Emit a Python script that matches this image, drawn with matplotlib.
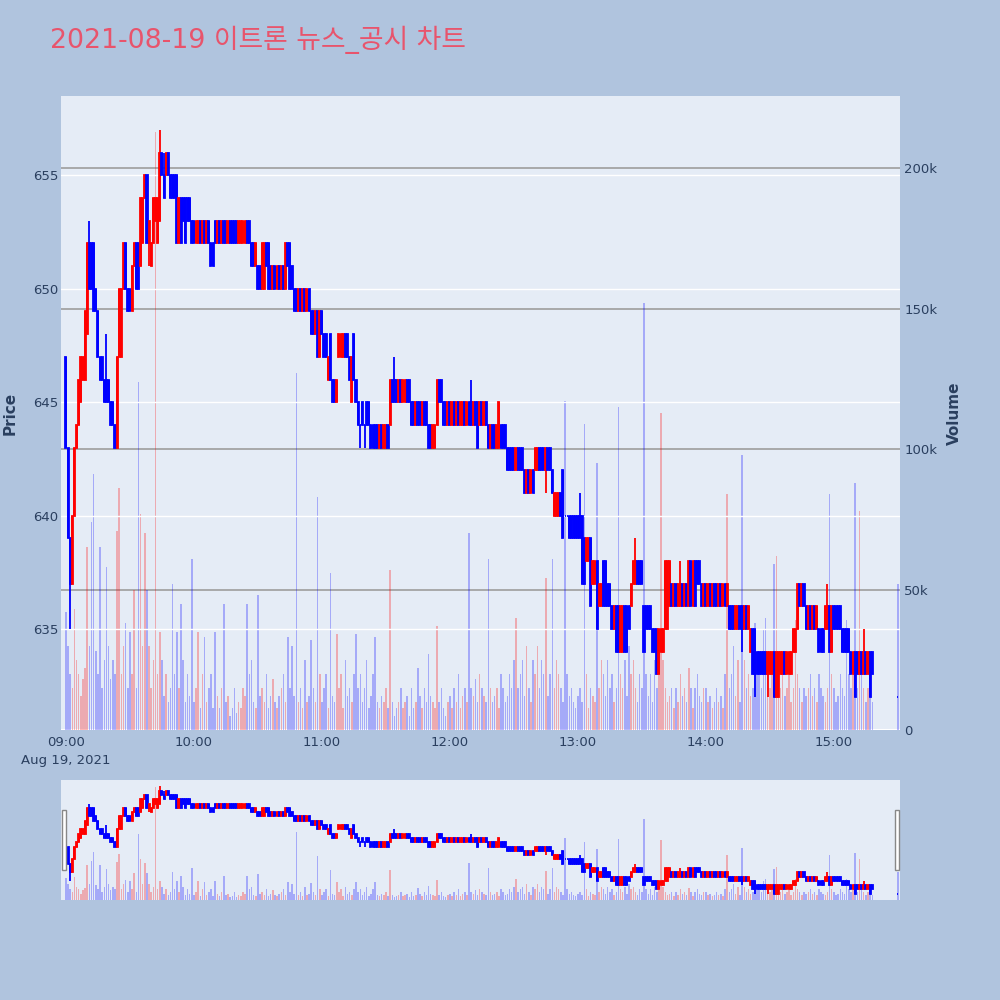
import numpy as np
import pandas as pd
import matplotlib
matplotlib.use('Agg')
import matplotlib.pyplot as plt
from matplotlib.patches import Rectangle

plt.rcParams['font.family'] = ['DejaVu Sans', 'Noto Sans CJK KR']

# one-minute candles, 09:00 .. 15:18, plus the closing auction at 15:30
opens = [
    647, 643, 639, 637, 640, 643, 644, 645, 646, 646, 648, 652, 652, 652, 650, 649, 647, 647, 646, 646,
    646, 645, 645, 644, 643, 647, 647, 650, 652, 650, 650, 649, 651, 652, 652, 651, 652, 654, 655, 652,
    651, 652, 653, 652, 653, 656, 655, 655, 656, 655, 655, 655, 655, 652, 654, 654, 654, 654, 654, 653,
    653, 652, 652, 653, 652, 653, 652, 653, 652, 652, 653, 652, 653, 652, 653, 653, 652, 653, 653, 653,
    653, 652, 652, 652, 652, 653, 653, 652, 652, 651, 651, 651, 650, 650, 652, 652, 651, 650, 651, 650,
    651, 650, 651, 650, 652, 652, 651, 650, 650, 649, 650, 649, 650, 649, 650, 649, 649, 648, 649, 647,
    649, 648, 648, 646, 648, 646, 646, 645, 647, 647, 647, 648, 648, 647, 645, 648, 646, 645, 644, 645,
    644, 645, 645, 644, 644, 644, 644, 643, 644, 643, 643, 644, 644, 646, 646, 646, 645, 646, 645, 645,
    646, 646, 645, 645, 644, 645, 645, 644, 645, 645, 644, 644, 643, 643, 644, 646, 646, 645, 645, 644,
    645, 644, 645, 644, 645, 644, 644, 645, 644, 645, 645, 644, 645, 645, 644, 645, 644, 645, 644, 643,
    644, 644, 643, 643, 644, 644, 644, 643, 643, 643, 643, 642, 643, 643, 643, 642, 641, 642, 641, 642,
    642, 642, 643, 643, 643, 642, 643, 643, 642, 640, 640, 640, 641, 642, 640, 640, 640, 640, 640, 640,
    640, 640, 640, 639, 638, 638, 639, 637, 637, 638, 636, 636, 638, 638, 637, 637, 636, 635, 636, 636,
    634, 634, 636, 636, 636, 636, 637, 637, 638, 638, 638, 636, 636, 636, 636, 635, 635, 635, 633, 634,
    634, 635, 635, 636, 637, 636, 637, 636, 636, 637, 636, 637, 636, 638, 636, 638, 638, 638, 637, 636,
    637, 636, 637, 636, 637, 637, 636, 637, 636, 637, 636, 636, 636, 636, 635, 635, 636, 636, 635, 636,
    635, 634, 635, 635, 634, 634, 634, 634, 634, 633, 633, 633, 634, 632, 632, 633, 633, 634, 633, 633,
    633, 634, 634, 635, 637, 636, 637, 636, 635, 636, 635, 636, 635, 635, 635, 635, 635, 635, 636, 634,
    636, 636, 636, 636, 635, 635, 635, 635, 634, 633, 634, 634, 633, 634, 633, 634, 633, 634, 634,
    632,
]
closes = [
    643, 639, 637, 640, 643, 644, 646, 647, 647, 649, 652, 650, 650, 649, 649, 647, 646, 646, 645, 645,
    645, 644, 644, 643, 647, 650, 650, 652, 650, 649, 649, 651, 652, 650, 650, 654, 654, 655, 652, 653,
    652, 654, 654, 654, 656, 655, 654, 656, 655, 654, 654, 654, 652, 654, 652, 653, 652, 653, 653, 652,
    652, 653, 653, 652, 653, 652, 653, 652, 651, 651, 652, 653, 652, 653, 652, 652, 653, 652, 652, 652,
    652, 653, 653, 653, 653, 652, 652, 651, 651, 652, 650, 650, 652, 652, 651, 650, 650, 651, 650, 651,
    650, 651, 650, 652, 651, 650, 650, 649, 649, 650, 649, 650, 649, 650, 649, 648, 648, 649, 647, 649,
    648, 647, 647, 647, 646, 645, 645, 646, 648, 648, 648, 647, 647, 646, 647, 646, 645, 644, 644, 644,
    644, 644, 644, 643, 643, 643, 643, 644, 643, 644, 644, 643, 646, 645, 645, 645, 646, 645, 646, 646,
    645, 645, 644, 644, 645, 644, 644, 645, 644, 644, 643, 643, 644, 644, 646, 645, 645, 644, 644, 645,
    644, 645, 644, 645, 644, 645, 645, 644, 645, 644, 644, 645, 644, 643, 645, 644, 645, 644, 643, 644,
    643, 643, 644, 645, 643, 643, 643, 642, 642, 642, 642, 643, 642, 642, 642, 641, 642, 641, 642, 641,
    643, 643, 642, 642, 642, 643, 642, 642, 641, 641, 641, 641, 640, 639, 640, 640, 639, 639, 639, 639,
    639, 639, 637, 637, 639, 639, 636, 638, 638, 635, 637, 637, 636, 636, 636, 636, 635, 636, 634, 634,
    636, 636, 634, 634, 635, 637, 638, 638, 637, 637, 637, 634, 635, 635, 635, 634, 634, 633, 635, 635,
    635, 638, 638, 638, 636, 637, 636, 637, 637, 636, 637, 636, 638, 636, 638, 636, 637, 637, 636, 637,
    636, 637, 636, 637, 636, 636, 637, 636, 637, 636, 637, 635, 635, 635, 636, 636, 635, 635, 636, 635,
    636, 635, 633, 633, 633, 633, 633, 633, 633, 634, 634, 634, 632, 634, 634, 634, 634, 633, 634, 634,
    634, 635, 635, 637, 636, 637, 636, 635, 636, 635, 636, 635, 636, 634, 634, 634, 636, 636, 634, 636,
    635, 635, 635, 635, 634, 634, 634, 634, 633, 634, 632, 633, 634, 633, 634, 633, 634, 632, 633,
    632,
]
wick_high = {11: 653, 19: 648, 44: 657, 46: 656, 154: 647, 190: 646, 241: 641,
             267: 639, 288: 638, 357: 637, 374: 635}
wick_low = {2: 635, 39: 651, 138: 643, 140: 643, 225: 641, 317: 634, 323: 632, 329: 632}

# volume in thousands of shares
volume_k = [
    42, 30, 20, 15, 43, 25, 20, 12, 18, 22, 65, 30, 74, 91, 28, 20, 65, 15, 25, 58,
    30, 18, 25, 20, 71, 86, 20, 30, 38, 15, 35, 20, 50, 15, 124, 77, 30, 70, 50, 30,
    15, 25, 213, 20, 35, 25, 12, 20, 10, 15, 52, 20, 35, 15, 45, 25, 10, 20, 12, 61,
    10, 15, 35, 8, 20, 33, 10, 15, 20, 8, 35, 12, 8, 15, 45, 10, 12, 5, 8, 15,
    6, 10, 8, 15, 12, 45, 20, 25, 10, 8, 48, 12, 15, 10, 20, 8, 12, 18, 10, 8,
    12, 15, 20, 10, 33, 15, 30, 12, 127, 10, 15, 8, 25, 10, 12, 32, 15, 10, 83, 20,
    10, 15, 20, 8, 56, 12, 10, 34, 15, 20, 8, 25, 12, 15, 10, 20, 34, 15, 20, 10,
    15, 25, 8, 12, 20, 33, 10, 8, 12, 10, 15, 8, 57, 10, 5, 8, 10, 15, 8, 10,
    12, 5, 15, 8, 10, 22, 12, 8, 15, 10, 27, 12, 10, 8, 37, 10, 15, 8, 5, 10,
    12, 8, 15, 10, 20, 8, 12, 15, 10, 70, 15, 12, 18, 10, 20, 15, 12, 10, 61, 15,
    10, 12, 15, 8, 20, 15, 10, 12, 20, 15, 25, 40, 15, 20, 25, 12, 30, 15, 10, 25,
    20, 30, 15, 25, 20, 54, 12, 20, 61, 15, 25, 20, 15, 10, 117, 20, 12, 15, 10, 8,
    12, 15, 10, 109, 20, 8, 15, 12, 10, 95, 15, 25, 20, 12, 25, 15, 20, 10, 15, 115,
    20, 15, 25, 12, 30, 20, 25, 15, 10, 20, 15, 152, 20, 12, 20, 10, 25, 15, 20, 113,
    25, 15, 10, 12, 15, 8, 15, 10, 20, 12, 15, 10, 22, 15, 8, 15, 20, 12, 10, 15,
    15, 10, 12, 8, 10, 15, 10, 12, 8, 20, 84, 15, 20, 30, 12, 25, 10, 98, 25, 15,
    20, 12, 15, 38, 20, 25, 15, 36, 40, 20, 15, 25, 59, 62, 20, 15, 20, 12, 15, 20,
    10, 15, 39, 20, 15, 10, 15, 12, 15, 20, 12, 15, 10, 20, 15, 12, 10, 15, 84, 20,
    15, 10, 12, 20, 15, 12, 39, 20, 15, 25, 88, 15, 78, 20, 15, 10, 15, 20, 10,
    52,
]

times = list(pd.date_range('2021-08-19 09:00', periods=379, freq='min')) + [pd.Timestamp('2021-08-19 15:30')]
hour_ticks = ['09:00', '10:00', '11:00', '12:00', '13:00', '14:00', '15:00']
price_ticks = [635, 640, 645, 650, 655]
vol_ticks = [0, 50000, 100000, 150000, 200000]
vol_tick_labels = ['0', '50k', '100k', '150k', '200k']

start = times[0]
x = np.array([(t - start).total_seconds() / 60 for t in times])
o = np.array(opens, dtype=float)
c = np.array(closes, dtype=float)
hi = np.maximum(o, c)
lo = np.minimum(o, c)
for k, v in wick_high.items():
    hi[k] = v
for k, v in wick_low.items():
    lo[k] = v
vol = np.array(volume_k) * 1000.0
cols = np.where(c > o, '#ff0000', '#0000ff')

BG = '#b0c4de'
PLOT_BG = '#e5ecf6'
TXT = '#2a3f5f'
XLIM = (-2.3, 391)
PLIM = (630.55, 658.5)
VLIM = (0, 225700)


def draw_chart(ax_v, ax_p):
    ax_v.set_facecolor(PLOT_BG)
    ax_p.patch.set_visible(False)
    ax_v.bar(x, vol, width=0.7, color=cols, alpha=0.28, linewidth=0, zorder=2)
    ax_p.vlines(x, lo, hi, colors=cols, linewidth=1.3, zorder=3)
    ax_p.bar(x, np.abs(c - o), bottom=np.minimum(o, c), width=0.5,
             color=cols, edgecolor=cols, linewidth=1.3, zorder=3)
    ax_v.set_xlim(*XLIM)
    ax_v.set_ylim(*VLIM)
    ax_p.set_ylim(*PLIM)
    for a in (ax_v, ax_p):
        for s in a.spines.values():
            s.set_visible(False)


fig = plt.figure(figsize=(10, 10), dpi=100)
fig.patch.set_facecolor(BG)

# main chart: volume axis underneath, price axis on top
ax_v = fig.add_axes([0.061, 0.270, 0.839, 0.634])
ax_p = ax_v.twinx()
draw_chart(ax_v, ax_p)

for yv in vol_ticks[1:]:
    ax_v.axhline(yv, color='#a3a3a3', linewidth=1.3, zorder=1)
ax_v.axhline(0, color='white', linewidth=1.5, zorder=1)
for yp in price_ticks:
    ax_p.axhline(yp, color='white', linewidth=1.0, zorder=1)

ax_v.yaxis.tick_right()
ax_v.set_yticks(vol_ticks)
ax_v.set_yticklabels(vol_tick_labels)
ax_p.yaxis.tick_left()
ax_p.set_yticks(price_ticks)
ax_p.set_yticklabels([str(p) for p in price_ticks])
ax_v.set_xticks([60 * i for i in range(len(hour_ticks))])
ax_v.set_xticklabels([hour_ticks[0] + '\nAug 19, 2021'] + hour_ticks[1:], linespacing=1.5)
ax_v.tick_params(axis='x', length=0, pad=4, labelsize=9.5, labelcolor=TXT)
ax_v.tick_params(axis='y', length=0, pad=3, labelsize=9.5, labelcolor=TXT)
ax_p.tick_params(axis='y', length=0, pad=2, labelsize=9.5, labelcolor=TXT)

# range slider
ax_sv = fig.add_axes([0.061, 0.100, 0.839, 0.120])
ax_sp = ax_sv.twinx()
draw_chart(ax_sv, ax_sp)
for a in (ax_sv, ax_sp):
    a.set_xticks([])
    a.set_yticks([])
for hx in (0.062, 0.895):
    fig.patches.append(Rectangle((hx, 0.130), 0.004, 0.060, transform=fig.transFigure,
                                 facecolor='white', edgecolor='#888888', linewidth=1))

fig.text(0.05, 0.960, '2021-08-19 이트론 뉴스_공시 차트', fontsize=19.3, color='#e8546c', va='center')
fig.text(0.010, 0.587, 'Price', rotation=90, fontsize=11, fontweight='bold', color=TXT,
         ha='center', va='center')
fig.text(0.954, 0.587, 'Volume', rotation=90, fontsize=11, fontweight='bold', color=TXT,
         ha='center', va='center')

fig.savefig('out.png', dpi=100, facecolor=BG)
